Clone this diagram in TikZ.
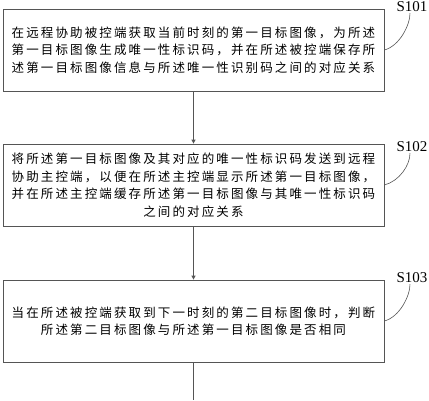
\documentclass[tikz,border=0pt]{standalone}
\usepackage{fontspec}
\usepackage{xcolor}
\usepackage{tikz}
\usetikzlibrary{positioning, arrows.meta}
\setmainfont{Liberation Serif}
\newfontfamily\cjk[LetterSpace=17]{Noto Sans CJK SC}
\definecolor{linegray}{HTML}{555555}

\tikzset{
  stepbox/.style={draw=linegray, line width=0.8pt, minimum width=381pt,
    minimum height=82pt, align=center, inner sep=0pt,
    font=\cjk\fontsize{12.5}{17.5}\selectfont},
  steplabel/.style={font=\fontsize{15}{16}\selectfont, inner sep=1pt},
  flow/.style={draw=linegray, line width=0.8pt},
  tag/.style={draw=linegray, line width=0.6pt}
}

\begin{document}
\begin{tikzpicture}[x=1pt, y=-1pt]
    \useasboundingbox (0,0) rectangle (429,400);

    \node[stepbox] (s101) at (193.5,50) {%
      在远程协助被控端获取当前时刻的第一目标图像，为所述\\
      第一目标图像生成唯一性标识码，并在所述被控端保存所\\
      述第一目标图像信息与所述唯一性识别码之间的对应关系};
    \node[stepbox] (s102) at (193.5,185) {%
      将所述第一目标图像及其对应的唯一性标识码发送到远程\\
      协助主控端，以便在所述主控端显示所述第一目标图像，\\
      并在所述主控端缓存所述第一目标图像与其唯一性标识码\\
      之间的对应关系};
    \node[stepbox] (s103) at (193.5,321) {%
      当在所述被控端获取到下一时刻的第二目标图像时，判断\\
      所述第二目标图像与所述第一目标图像是否相同};

    \node[steplabel] (l101) at (412,7) {S101};
    \node[steplabel] (l102) at (412,147) {S102};
    \node[steplabel] (l103) at (412,278) {S103};

    \coordinate (end) at (193.5,400);

    % connectors between the steps
    \draw[flow, -{Triangle[length=4pt, width=4pt]}] (s101) -- (s102);
    \draw[flow, -{Triangle[length=4pt, width=4pt]}] (s102) -- (s103);
    \draw[flow] (s103) -- (end);

    % step tags
    \draw[tag] (s101.east) .. controls +(15,-4) and +(0,12) .. (l101.south -| 410,0);
    \draw[tag] (s102.east) .. controls +(15,-4) and +(0,12) .. (l102.south -| 410,0);
    \draw[tag] (s103.east) .. controls +(15,-4) and +(0,12) .. (l103.south -| 410,0);
\end{tikzpicture}
\end{document}
